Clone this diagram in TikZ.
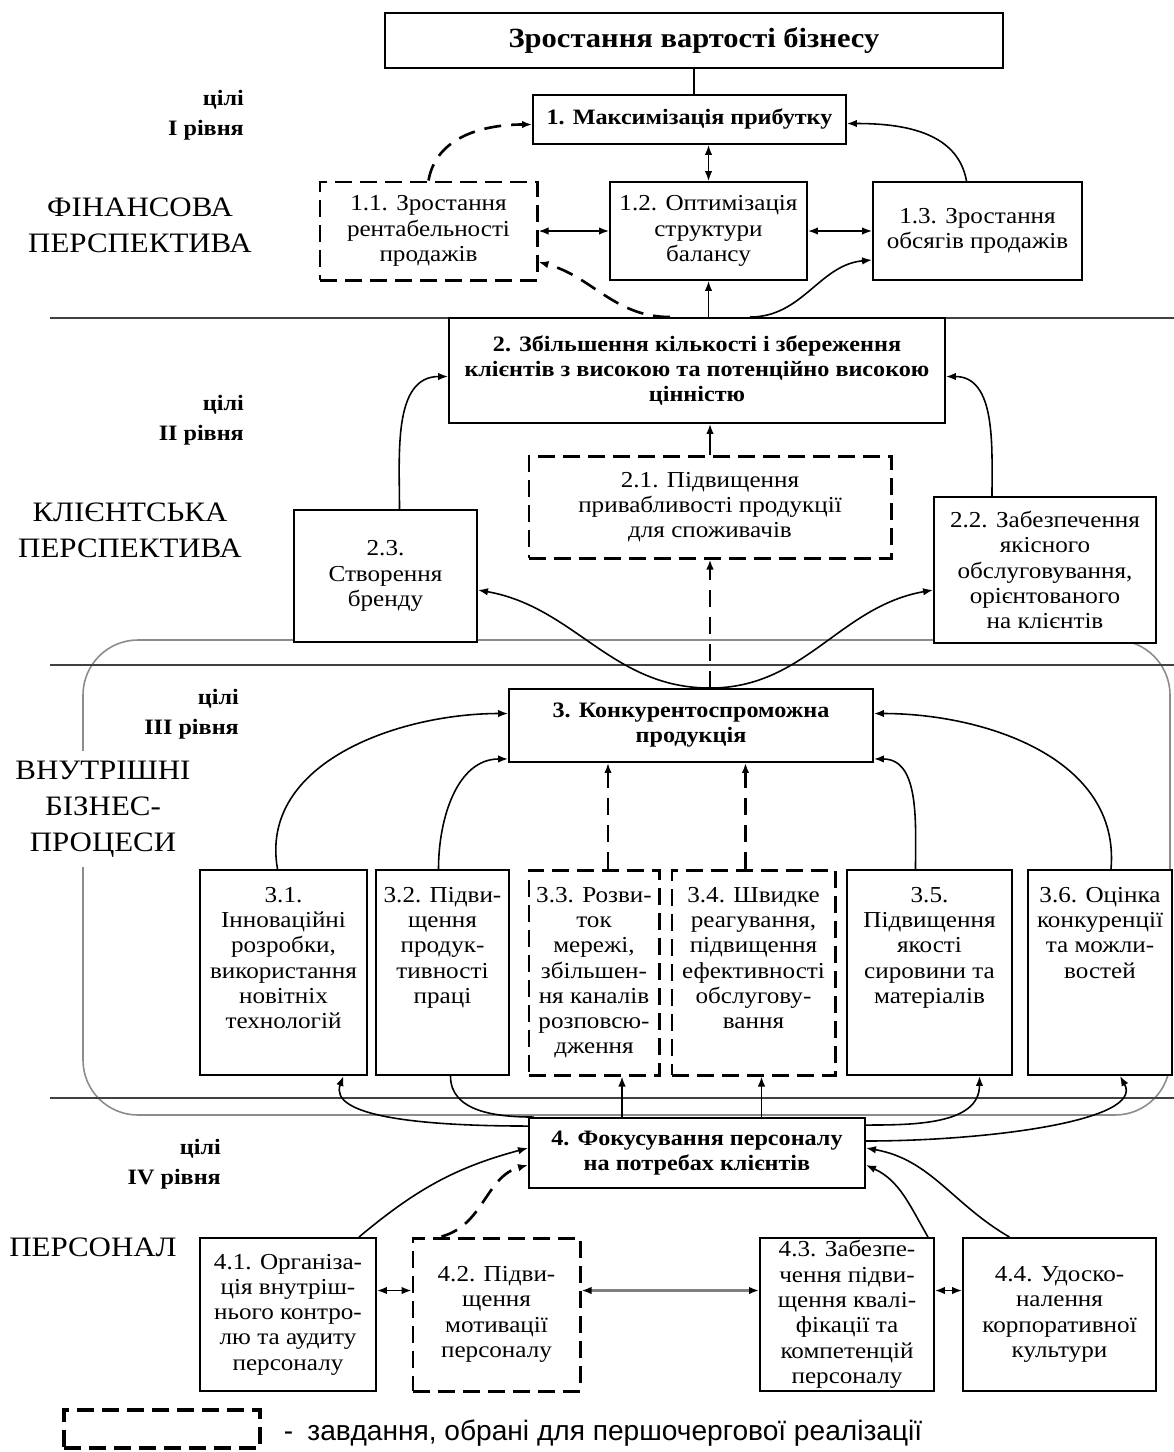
\documentclass[tikz,border=0pt]{standalone}
\usepackage{fontspec}
\setmainfont{Liberation Serif}[FakeStretch=1.1]
\newfontfamily\legendfont{Liberation Sans}
\usetikzlibrary{calc,arrows.meta}
\tikzset{
  box/.style={draw, line width=1.1pt, fill=white, align=center, inner sep=1pt,
    font=\fontsize{13}{14.4}\selectfont},
  bbox/.style={box, font=\fontsize{12.5}{14.2}\selectfont\bfseries},
  dbox/.style={box, line width=1.7pt, dash pattern=on 3.4mm off 1.6mm},
  lnk/.style={line width=0.9pt, -{Latex[length=2mm,width=1.5mm]}},
  dlnk/.style={lnk, line width=1.5pt, dash pattern=on 3.4mm off 2mm},
  twoway/.style={line width=0.9pt,
    {Latex[length=2mm,width=1.5mm,color=black]}-{Latex[length=2mm,width=1.5mm,color=black]}},
  sep/.style={draw=black!75, line width=1.6pt},
  lvl/.style={anchor=east, align=right, font=\fontsize{12.5}{17}\selectfont\bfseries},
  persp/.style={align=center, font=\fontsize{16}{20.5}\selectfont},
}

\begin{document}
\begin{tikzpicture}[x=0.2mm, y=0.2mm]
  \fill[white] (0,0) rectangle (1174,-1452);
  \useasboundingbox (0,0) rectangle (1174,-1452);

  % grey frame and level separators
  \draw[black!45, line width=0.9pt, rounded corners=11mm] (83,-640) rectangle (1170,-1115);
  \foreach \y in {318,665,1098}
    \draw[sep] (50,-\y) -- (1174,-\y);

  % perspectives and levels
  \node[persp] (p1) at (140,-225) {ФІНАНСОВА\\ПЕРСПЕКТИВА};
  \node[persp] (p2) at (130,-530) {КЛІЄНТСЬКА\\ПЕРСПЕКТИВА};
  \node[persp, fill=white, inner sep=2mm] (p3) at (103,-809) {ВНУТРІШНІ\\БІЗНЕС-\\ПРОЦЕСИ};
  \node[persp] (p4) at (93,-1247) {ПЕРСОНАЛ};
  \node[lvl] (l1) at (250,-115) {цілі\\I рівня};
  \node[lvl] (l2) at (250,-420) {цілі\\II рівня};
  \node[lvl] (l3) at (245,-714) {цілі\\III рівня};
  \node[lvl] (l4) at (227,-1164) {цілі\\IV рівня};

  % goals
  \node[bbox, minimum width=123.6mm, minimum height=11mm,
    font=\fontsize{15.8}{18}\selectfont\bfseries] (top) at (694,-40.5) {Зростання вартості бізнесу};
  \node[bbox, minimum width=62.6mm, minimum height=9.8mm] (b1) at (689.5,-119.5) {1. Максимізація прибутку};
  \node[dbox, minimum width=43.4mm, minimum height=19.6mm] (b11) at (428.5,-231) {1.1. Зростання\\рентабельності\\продажів};
  \node[box, minimum width=39.4mm, minimum height=19.6mm] (b12) at (708.5,-231) {1.2. Оптимізація\\структури\\балансу};
  \node[box, minimum width=41.8mm, minimum height=19.6mm] (b13) at (977.5,-231) {1.3. Зростання\\обсягів продажів};

  \node[bbox, minimum width=99.2mm, minimum height=21mm] (b2) at (697,-370.5)
    {2. Збільшення кількості і збереження\\клієнтів з високою та потенційно високою\\цінністю};
  \node[dbox, minimum width=72.4mm, minimum height=20.4mm] (b21) at (710,-507) {2.1. Підвищення\\привабливості продукції\\для споживачів};
  \node[box, minimum width=36.6mm, minimum height=26.4mm] (b23) at (385.5,-576) {2.3.\\Створення\\бренду};
  \node[box, minimum width=44.4mm, minimum height=29.2mm] (b22) at (1045,-570)
    {2.2. Забезпечення\\якісного\\обслуговування,\\орієнтованого\\на клієнтів};

  \node[bbox, minimum width=72.8mm, minimum height=14.6mm] (b3) at (691,-725.5) {3. Конкурентоспроможна\\продукція};
  \node[box, inner sep=0pt] (b31) at (283.5,-972.5) {\parbox[c][41mm][t]{33.4mm}{\vspace*{3.4mm}\centering
    3.1.\\Інноваційні\\розробки,\\використання\\новітніх\\технологій}};
  \node[box, inner sep=0pt] (b32) at (442.5,-972.5) {\parbox[c][41mm][t]{26.6mm}{\vspace*{3.4mm}\centering
    3.2. Підви-\\щення\\продук-\\тивності\\праці}};
  \node[dbox, inner sep=0pt] (b33) at (594,-972.5) {\parbox[c][41mm][t]{26mm}{\vspace*{3.4mm}\centering
    3.3. Розви-\\ток\\мережі,\\збільшен-\\ня каналів\\розповсю-\\дження}};
  \node[dbox, inner sep=0pt] (b34) at (753.5,-972.5) {\parbox[c][41mm][t]{32.6mm}{\vspace*{3.4mm}\centering
    3.4. Швидке\\реагування,\\підвищення\\ефективності\\обслугову-\\вання}};
  \node[box, inner sep=0pt] (b35) at (929.5,-972.5) {\parbox[c][41mm][t]{33mm}{\vspace*{3.4mm}\centering
    3.5.\\Підвищення\\якості\\сировини та\\матеріалів}};
  \node[box, inner sep=0pt] (b36) at (1100,-972.5) {\parbox[c][41mm][t]{28.8mm}{\vspace*{3.4mm}\centering
    3.6. Оцінка\\конкуренції\\та можли-\\востей}};

  \node[bbox, minimum width=67.2mm, minimum height=14mm] (b4) at (697,-1153) {4. Фокусування персоналу\\на потребах клієнтів};
  \node[box, minimum width=35.2mm, minimum height=30.6mm] (b41) at (288,-1314.5)
    {4.1. Організа-\\ція внутріш-\\нього контро-\\лю та аудиту\\персоналу};
  \node[dbox, minimum width=33.4mm, minimum height=30.6mm] (b42) at (496.5,-1314.5) {4.2. Підви-\\щення\\мотивації\\персоналу};
  \node[box, minimum width=34.8mm, minimum height=30.6mm] (b43) at (847,-1314.5)
    {4.3. Забезпе-\\чення підви-\\щення квалі-\\фікації та\\компетенцій\\персоналу};
  \node[box, minimum width=38.6mm, minimum height=30.6mm] (b44) at (1059.5,-1314.5) {4.4. Удоско-\\налення\\корпоративної\\культури};

  % level 1 links
  \draw[line width=0.9pt] (top.south) -- (top.south |- b1.north);
  \draw[twoway] (b1.south -| b12.north) -- (b12.north);
  \draw[twoway] (b11.east) -- (b12.west);
  \draw[twoway] (b12.east) -- (b13.west);
  \draw[dlnk] (b11.north) to[out=80,in=180] ($(b1.west)+(0,-5)$);
  \draw[lnk] ($(b13.north)+(-11,0)$) to[out=100,in=0] ($(b1.east)+(0,-4)$);
  \draw[dlnk] ($(b2.north)+(-27,0)$) to[out=180,in=-15] ($(b11.east)+(0,-31)$);
  \draw[lnk] ($(b2.north)+(53,0)$) to[out=0,in=185] ($(b13.west)+(0,-29)$);
  \draw[lnk] (b12.south |- b2.north) -- (b12.south);

  % level 2 links
  \draw[lnk] (b21.north) -- (b21.north |- b2.south);
  \draw[lnk] ($(b23.north)+(14,0)$) to[out=90,in=180] ($(b2.west)+(0,-6)$);
  \draw[lnk] ($(b22.north)+(-53,0)$) to[out=90,in=0] ($(b2.east)+(0,-6)$);
  \draw[dlnk] (b21.south |- b3.north) -- (b21.south);
  \draw[lnk] (b21.south |- b3.north) to[out=180,in=-10] ($(b23.east)+(0,-14)$);
  \draw[lnk] (b21.south |- b3.north) to[out=0,in=190] ($(b22.west)+(0,-20)$);

  % level 3 links
  \coordinate (q33) at ($(b33.north)+(14,0)$);
  \coordinate (q34) at ($(b34.north)+(-8,0)$);
  \draw[lnk] ($(b31.north)+(-6,0)$) to[out=100,in=180] ($(b3.west)+(0,12)$);
  \draw[lnk] ($(b32.north)+(-4,0)$) to[out=90,in=180] ($(b3.south west)+(0,4)$);
  \draw[dlnk] (q33) -- (q33 |- b3.south);
  \draw[dlnk] (q34) -- (q34 |- b3.south);
  \draw[lnk] ($(b35.north)+(-14,0)$) to[out=90,in=0] ($(b3.south east)+(0,4)$);
  \draw[lnk] ($(b36.north)+(11,0)$) to[out=85,in=0] ($(b3.east)+(0,12)$);

  % level 4 links up
  \coordinate (s33) at ($(b33.south)+(28,0)$);
  \coordinate (s34) at ($(b34.south)+(8,0)$);
  \draw[lnk] ($(b4.north west)+(0,-9)$) .. controls +(-110,0) and +(-15,-40) .. ($(b31.south)+(60,0)$);
  \draw[line width=0.9pt] ($(b32.south)+(8,0)$) to[out=-90,in=180] ($(b4.north west)+(6,0)$);
  \draw[lnk] (s33 |- b4.north) -- (s33);
  \draw[lnk] (s34 |- b4.north) -- (s34);
  \draw[lnk] ($(b4.north east)+(0,-8)$) to[out=0,in=-90] ($(b35.south)+(50,0)$);
  \draw[lnk] ($(b4.east)+(0,12)$) .. controls +(120,0) and +(25,-45) .. ($(b36.south)+(20,0)$);

  % level 4 links
  \draw[lnk] ($(b41.north)+(71,0)$) to[out=40,in=-165] ($(b4.west)+(0,5)$);
  \draw[dlnk] ($(b42.north)+(-55,0)$) to[out=15,in=195] ($(b4.west)+(0,-12)$);
  \draw[lnk] ($(b43.north)+(81,0)$) to[out=120,in=-25] ($(b4.east)+(0,-12)$);
  \draw[lnk] ($(b44.north)+(-50,0)$) to[out=150,in=-10] ($(b4.east)+(0,5)$);
  \draw[twoway] ($(b41.east)+(0,24)$) -- ($(b42.west)+(0,24)$);
  \draw[twoway, draw=black!50, line width=1.6pt] ($(b42.east)+(0,24)$) -- ($(b43.west)+(0,24)$);
  \draw[twoway] ($(b43.east)+(0,24)$) -- ($(b44.west)+(0,24)$);

  % key
  \node[dbox, line width=2pt, minimum width=39.2mm, minimum height=7.6mm] (key) at (162,-1429) {};
  \node[anchor=west, font=\legendfont\fontsize{16}{18}\selectfont] (keytxt) at ($(key.east)+(16,-4)$)
    {-\enspace завдання, обрані для першочергової реалізації};
\end{tikzpicture}
\end{document}
